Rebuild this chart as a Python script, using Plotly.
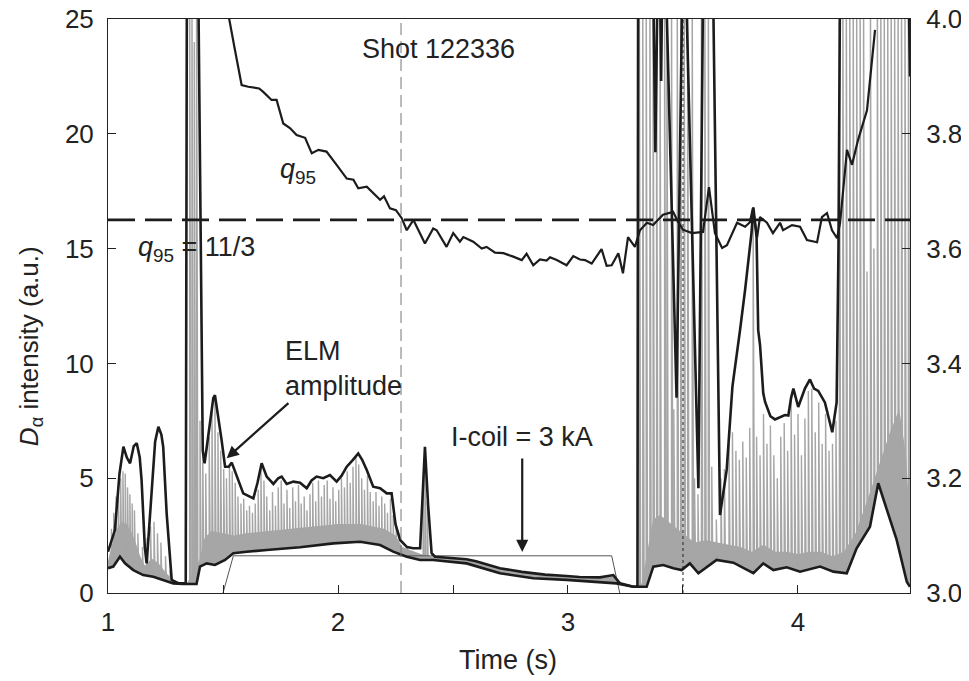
import plotly.graph_objects as go

# ---------------- data ----------------
# ELM amplitude envelope (left axis, a.u.)
env_t = [1.000, 1.030, 1.050, 1.067, 1.082, 1.096, 1.112, 1.125, 1.138, 1.146, 1.160, 1.168, 1.180, 1.190,
         1.205, 1.219, 1.232, 1.240, 1.255, 1.277, 1.306, 1.338, 1.343, 1.392, 1.412, 1.420, 1.440, 1.458,
         1.465, 1.478, 1.494, 1.509, 1.525, 1.538, 1.560, 1.588, 1.632, 1.650, 1.668, 1.690, 1.719, 1.740,
         1.755, 1.777, 1.806, 1.835, 1.864, 1.885, 1.907, 1.936, 1.965, 1.994, 2.015, 2.038, 2.065, 2.088,
         2.105, 2.125, 2.153, 2.183, 2.212, 2.233, 2.250, 2.270, 2.300, 2.327, 2.357, 2.365, 2.378, 2.392,
         2.407, 2.422, 2.500, 2.559, 2.600, 2.704, 2.800, 2.849, 2.900, 2.994, 3.050, 3.139, 3.197, 3.226,
         3.284, 3.302, 3.305, 3.370, 3.380, 3.390, 3.400, 3.405, 3.410, 3.425, 3.472, 3.498, 3.512, 3.567,
         3.588, 3.630, 3.661, 3.690, 3.715, 3.748, 3.770, 3.798, 3.806, 3.820, 3.827, 3.835, 3.849, 3.857,
         3.880, 3.900, 3.943, 3.958, 3.970, 3.980, 4.001, 4.030, 4.052, 4.070, 4.088, 4.117, 4.149, 4.168,
         4.176, 4.183, 4.480, 4.487]
env_v = [1.80, 2.74, 5.20, 6.37, 5.90, 5.65, 6.40, 6.52, 5.90, 4.92, 2.00, 1.29, 3.00, 4.63,
         6.60, 7.24, 6.90, 6.37, 3.47, 0.57, 0.42, 0.42, 27.0, 27.0, 6.20, 5.65, 7.20, 8.50,
         8.62, 7.80, 6.66, 5.50, 5.50, 5.68, 5.07, 4.34, 4.12, 4.80, 5.65, 5.07, 4.75, 5.00,
         5.07, 4.75, 4.85, 4.80, 4.56, 4.90, 5.07, 5.00, 5.14, 4.85, 5.10, 5.50, 5.80, 6.08,
         5.80, 5.36, 4.63, 4.56, 4.34, 4.34, 3.00, 2.31, 2.00, 1.95, 1.95, 3.50, 6.37, 3.80,
         1.73, 1.58, 1.50, 1.47, 1.38, 1.08, 0.92, 0.86, 0.80, 0.74, 0.70, 0.68, 0.78, 0.42,
         0.27, 0.27, 27.0, 27.0, 19.2, 27.0, 27.0, 22.3, 27.0, 27.0, 8.50, 27.0, 27.0, 4.56,
         27.0, 27.0, 3.40, 5.36, 9.00, 11.45, 13.2, 15.7, 16.8, 15.5, 11.45, 10.8, 8.70, 8.32,
         7.70, 7.56, 7.75, 7.73, 8.50, 8.90, 8.10, 8.90, 9.30, 8.90, 8.80, 8.30, 7.00, 8.30,
         15.0, 27.0, 27.0, 22.5]

# Lower D-alpha baseline (left axis)
base_t = [1.000, 1.023, 1.052, 1.074, 1.110, 1.153, 1.197, 1.240, 1.284, 1.327, 1.385, 1.400, 1.429,
          1.465, 1.509, 1.545, 1.603, 1.690, 1.835, 1.980, 2.096, 2.183, 2.240, 2.299, 2.357, 2.414,
          2.559, 2.704, 2.849, 2.994, 3.139, 3.211, 3.284, 3.342, 3.371, 3.414, 3.458, 3.494, 3.530,
          3.567, 3.646, 3.719, 3.806, 3.849, 3.893, 3.951, 4.009, 4.096, 4.154, 4.212, 4.255, 4.313,
          4.349, 4.386, 4.429, 4.473, 4.487]
base_v = [1.08, 1.15, 1.58, 1.29, 1.00, 0.78, 0.71, 0.57, 0.42, 0.39, 0.39, 1.15, 1.29,
          1.22, 1.44, 1.73, 1.80, 1.87, 1.99, 2.16, 2.23, 2.09, 1.80, 1.58, 1.44, 1.44,
          1.29, 0.86, 0.64, 0.57, 0.45, 0.42, 0.27, 0.27, 1.15, 1.22, 1.08, 1.00, 1.29,
          0.86, 1.44, 1.32, 0.86, 1.29, 1.00, 1.12, 0.93, 1.15, 0.93, 0.86, 1.95, 2.89,
          4.78, 3.61, 2.31, 0.49, 0.27]

# Upper edge of the dense inter-ELM D-alpha signal (grey band above the baseline)
band_t = [1.000, 1.020, 1.040, 1.060, 1.080, 1.100, 1.120, 1.140, 1.160, 1.190, 1.220, 1.250, 1.280,
          1.320, 1.345, 1.400, 1.420, 1.450, 1.500, 1.550, 1.600, 1.700, 1.800, 1.900, 2.000, 2.100,
          2.200, 2.250, 2.280, 2.320, 2.360, 2.400, 2.422, 2.500, 2.559, 2.600, 2.704, 2.800, 2.900,
          2.994, 3.050, 3.139, 3.197, 3.226, 3.284, 3.320, 3.340, 3.370, 3.400, 3.450, 3.500, 3.550,
          3.600, 3.650, 3.700, 3.750, 3.800, 3.850, 3.900, 3.950, 4.000, 4.050, 4.100, 4.150, 4.200,
          4.250, 4.300, 4.350, 4.400, 4.440, 4.470, 4.487]
band_hi = [1.4, 2.2, 2.8, 3.1, 3.0, 2.7, 2.2, 1.6, 1.2, 1.5, 1.3, 0.9, 0.6,
           0.45, 0.45, 1.5, 2.4, 2.7, 2.6, 2.5, 2.6, 2.7, 2.8, 2.9, 3.0, 3.0,
           2.8, 2.5, 2.0, 1.85, 1.7, 1.6, 1.58, 1.50, 1.47, 1.38, 1.08, 0.92, 0.80,
           0.74, 0.70, 0.68, 0.78, 0.45, 0.30, 0.40, 1.5, 3.2, 3.4, 3.0, 2.6, 2.2,
           2.3, 2.2, 2.1, 2.0, 1.8, 2.1, 1.8, 1.8, 1.7, 1.8, 1.8, 1.6, 1.8,
           2.6, 4.0, 5.5, 7.0, 8.0, 6.0, 3.0]

# Individual ELM spikes (time, peak) of the raw D-alpha signal
spike_t = [1.015, 1.025, 1.035, 1.045, 1.055, 1.065, 1.075, 1.085, 1.095, 1.105, 1.115, 1.130, 1.150,
           1.170, 1.185, 1.200, 1.215, 1.230, 1.250, 1.270, 1.355, 1.365, 1.375, 1.385,
           1.400, 1.412, 1.425, 1.440, 1.452, 1.465, 1.478, 1.490, 1.503, 1.515, 1.528, 1.540, 1.553,
           1.565, 1.578, 1.590, 1.603, 1.615, 1.628, 1.640, 1.653, 1.665, 1.678, 1.690, 1.703, 1.715,
           1.728, 1.740, 1.753, 1.765, 1.778, 1.790, 1.803, 1.815, 1.828, 1.840, 1.853, 1.865, 1.878,
           1.890, 1.903, 1.915, 1.928, 1.940, 1.953, 1.965, 1.978, 1.990, 2.003, 2.015, 2.028, 2.040,
           2.053, 2.065, 2.078, 2.090, 2.103, 2.115, 2.128, 2.140, 2.153, 2.165, 2.178, 2.190, 2.203,
           2.215, 2.228, 2.240, 2.253, 2.300, 2.370, 2.378, 2.388,
           3.310, 3.325, 3.340, 3.356, 3.370, 3.385, 3.400, 3.420, 3.430, 3.450, 3.460, 3.475, 3.490,
           3.505, 3.520, 3.540, 3.550, 3.565, 3.580, 3.595, 3.610, 3.625, 3.645, 3.665, 3.680, 3.700,
           3.715, 3.730, 3.745, 3.760, 3.775, 3.790, 3.805, 3.820, 3.835, 3.850, 3.865, 3.880, 3.895,
           3.910, 3.925, 3.940, 3.955, 3.970, 3.985, 4.000, 4.015, 4.030, 4.045, 4.060, 4.075, 4.090,
           4.105, 4.120, 4.135, 4.150, 4.165, 4.180, 4.195, 4.210, 4.225, 4.240, 4.255, 4.270, 4.285,
           4.300, 4.315, 4.330, 4.345, 4.360, 4.375, 4.390, 4.405, 4.420, 4.435, 4.450, 4.465, 4.480]
spike_peak = [2.8, 3.5, 4.2, 4.6, 5.0, 5.3, 5.2, 4.6, 4.3, 3.9, 3.6, 2.6, 2.0,
              2.4, 2.9, 3.1, 2.6, 2.2, 1.6, 1.0, 27.0, 27.0, 24.0, 27.0,
              7.5, 6.0, 5.2, 6.8, 8.0, 8.4, 7.0, 6.2, 5.4, 5.0, 5.6, 5.3, 4.8,
              4.2, 3.9, 4.1, 3.6, 3.8, 3.5, 3.9, 4.5, 5.4, 4.9, 4.2, 3.6, 4.4,
              3.8, 4.6, 4.9, 3.9, 4.5, 3.7, 4.6, 4.0, 4.7, 3.9, 4.2, 3.6, 4.3,
              4.8, 4.0, 4.9, 4.2, 4.7, 4.9, 4.1, 4.6, 4.0, 4.5, 5.0, 4.6, 5.3,
              4.8, 5.5, 5.9, 5.6, 5.0, 4.5, 5.1, 4.4, 4.0, 4.4, 3.8, 4.2, 3.9,
              3.5, 4.1, 3.4, 2.9, 2.0, 4.5, 5.8, 4.0,
              27.0, 27.0, 27.0, 27.0, 27.0, 27.0, 27.0, 27.0, 27.0, 27.0, 8.0, 27.0, 27.0,
              27.0, 27.0, 27.0, 5.0, 4.3, 27.0, 27.0, 27.0, 5.5, 3.2, 5.0, 5.4, 6.5,
              7.0, 6.2, 5.8, 6.6, 5.9, 7.2, 16.5, 6.8, 6.0, 7.8, 6.5, 7.3, 6.0,
              5.0, 6.8, 7.4, 6.2, 8.5, 6.9, 7.8, 6.0, 7.6, 8.8, 8.9, 7.0, 8.3,
              6.5, 7.8, 6.2, 6.5, 7.5, 27.0, 27.0, 27.0, 27.0, 27.0, 27.0, 27.0, 27.0,
              14.0, 27.0, 15.0, 27.0, 27.0, 27.0, 27.0, 27.0, 27.0, 27.0, 27.0, 27.0, 27.0]

# Edge safety factor q95 (right axis)
q95_t = [1.520, 1.527, 1.552, 1.581, 1.610, 1.657, 1.675, 1.711, 1.733, 1.762, 1.791, 1.820, 1.857,
         1.886, 1.915, 1.950, 1.994, 2.038, 2.067, 2.088, 2.125, 2.153, 2.183, 2.200, 2.226, 2.252,
         2.277, 2.299, 2.328, 2.378, 2.414, 2.429, 2.472, 2.501, 2.530, 2.545, 2.588, 2.625, 2.646,
         2.683, 2.719, 2.762, 2.799, 2.820, 2.849, 2.878, 2.907, 2.922, 2.951, 2.994, 3.023, 3.052,
         3.074, 3.103, 3.146, 3.168, 3.190, 3.219, 3.239, 3.261, 3.291, 3.313, 3.343, 3.370, 3.413,
         3.457, 3.478, 3.500, 3.539, 3.587, 3.613, 3.639, 3.670, 3.691, 3.735, 3.770, 3.791, 3.804,
         3.822, 3.835, 3.865, 3.891, 3.922, 3.935, 3.974, 4.009, 4.039, 4.083, 4.104, 4.126, 4.148,
         4.170, 4.183, 4.213, 4.235, 4.261, 4.300, 4.335]
q95_v = [4.020, 4.000, 3.946, 3.885, 3.882, 3.879, 3.873, 3.859, 3.859, 3.818, 3.810, 3.798, 3.793,
         3.766, 3.772, 3.769, 3.746, 3.722, 3.720, 3.705, 3.708, 3.696, 3.685, 3.691, 3.670, 3.667,
         3.653, 3.632, 3.650, 3.609, 3.635, 3.632, 3.603, 3.627, 3.612, 3.620, 3.612, 3.600, 3.603,
         3.593, 3.592, 3.586, 3.580, 3.591, 3.571, 3.581, 3.579, 3.585, 3.580, 3.571, 3.587, 3.581,
         3.580, 3.574, 3.599, 3.570, 3.571, 3.592, 3.557, 3.620, 3.603, 3.632, 3.645, 3.641, 3.659,
         3.664, 3.647, 3.633, 3.627, 3.629, 3.707, 3.627, 3.601, 3.606, 3.645, 3.638, 3.646, 3.671,
         3.619, 3.655, 3.645, 3.627, 3.645, 3.632, 3.641, 3.638, 3.615, 3.611, 3.655, 3.662, 3.632,
         3.618, 3.645, 3.772, 3.746, 3.789, 3.841, 3.981]

# I-coil current waveform (scaled onto left axis)
icoil_t = [1.500, 1.545, 3.190, 3.225]
icoil_v = [0.0, 1.62, 1.62, 0.0]

q95_threshold = 3.65          # q95 = 11/3 line as drawn
shot_marker_t = 2.274         # vertical dashed marker
dotted_marker_t = 3.50        # vertical dotted marker

x_ticks = [1, 2, 3, 4]
y_ticks = [0, 5, 10, 15, 20, 25]
y2_ticks = [3.0, 3.2, 3.4, 3.6, 3.8, 4.0]

# ---------------- figure ----------------
FONT = "Liberation Sans, Arial, Helvetica, sans-serif"
GREY = "#a6a6a6"
BLACK = "#1c1c1c"

fig = go.Figure()

# dense inter-ELM signal: polygon between baseline and band upper edge
fig.add_trace(go.Scatter(
    x=band_t + base_t[::-1], y=band_hi + base_v[::-1],
    fill="toself", fillcolor=GREY, line=dict(width=0), mode="lines",
    hoverinfo="skip", showlegend=False))

# ELM spikes
sx, sy = [], []
for t, p in zip(spike_t, spike_peak):
    sx += [t, t, t + 0.006, None]
    sy += [0, p, 0, None]
fig.add_trace(go.Scatter(x=sx, y=sy, mode="lines", line=dict(color=GREY, width=1.4),
                         hoverinfo="skip", showlegend=False))

# blank out below the baseline
fig.add_trace(go.Scatter(x=base_t, y=base_v, fill="tozeroy", fillcolor="white",
                         line=dict(width=0), mode="lines", hoverinfo="skip", showlegend=False))

# I-coil trapezoid
fig.add_trace(go.Scatter(x=icoil_t, y=icoil_v, mode="lines",
                         line=dict(color="#555555", width=1), showlegend=False))

# envelope and baseline
fig.add_trace(go.Scatter(x=env_t, y=env_v, mode="lines",
                         line=dict(color=BLACK, width=2.6), showlegend=False))
fig.add_trace(go.Scatter(x=base_t, y=base_v, mode="lines",
                         line=dict(color=BLACK, width=2.6), showlegend=False))

# q95 on right axis
fig.add_trace(go.Scatter(x=q95_t, y=q95_v, mode="lines", yaxis="y2",
                         line=dict(color=BLACK, width=2.2), showlegend=False))
fig.add_trace(go.Scatter(x=[1.0, 4.487], y=[q95_threshold, q95_threshold], mode="lines", yaxis="y2",
                         line=dict(color=BLACK, width=2.6, dash="27px,10px"), showlegend=False))

# vertical markers
fig.add_shape(type="line", x0=shot_marker_t, x1=shot_marker_t, y0=0, y1=1, xref="x", yref="paper",
              line=dict(color="#777777", width=1, dash="12px,6px"))
fig.add_shape(type="line", x0=dotted_marker_t, x1=dotted_marker_t, y0=0, y1=1, xref="x", yref="paper",
              line=dict(color="#222222", width=1, dash="dot"))

TXT = dict(family=FONT, size=27, color="#222222")
ann = [
    dict(x=2.435, y=23.7, text="Shot 122336", showarrow=False, font=TXT),
    dict(x=1.824, y=18.4, text="<i>q</i><sub>95</sub>", showarrow=False, font=TXT),
    dict(x=1.383, y=15.0, text="<i>q</i><sub>95</sub> = 11/3", showarrow=False, font=TXT),
    dict(x=1.761, y=11.3, text="ELM<br>amplitude", showarrow=False, font=TXT, align="left",
         xanchor="left", yanchor="top"),
    dict(x=1.516, y=5.87, ax=1.791, ay=8.33, axref="x", ayref="y", text="", showarrow=True,
         arrowhead=2, arrowsize=1.1, arrowwidth=2.2, arrowcolor=BLACK),
    dict(x=2.80, y=6.8, text="I-coil = 3 kA", showarrow=False, font=TXT),
    dict(x=2.801, y=1.79, ax=2.801, ay=5.92, axref="x", ayref="y", text="", showarrow=True,
         arrowhead=2, arrowsize=1.1, arrowwidth=2.2, arrowcolor=BLACK),
    dict(x=-0.0973, y=0.43, xref="paper", yref="paper", xanchor="center", yanchor="middle",
         text="<i>D</i><sub>α</sub> intensity (a.u.)", textangle=-90, showarrow=False,
         font=dict(family=FONT, size=26, color="#222222")),
    dict(x=0.4988, y=-0.1167, xref="paper", yref="paper", xanchor="center", yanchor="middle",
         text="Time (s)", showarrow=False, font=TXT),
]
fig.update_layout(annotations=ann)

AX = dict(showgrid=False, zeroline=False, showline=True, linecolor="#222222", linewidth=1,
          ticks="inside", ticklen=8, tickcolor="#222222", automargin=False,
          ticklabeloverflow="allow",
          tickfont=dict(family=FONT, size=26, color="#222222"))

# the page body adds an 8 px offset, so the figure is 8 px smaller than the window
fig.update_layout(
    width=961, height=673,
    margin=dict(l=100, r=59, t=11, b=88, autoexpand=False),
    paper_bgcolor="white", plot_bgcolor="white",
    showlegend=False,
    xaxis=dict(range=[1.0, 4.487], tickvals=x_ticks, mirror=True,
               minor=dict(ticks="inside", dtick=0.5, ticklen=8, tickcolor="#222222"),
               ticklabelstandoff=6, **AX),
    yaxis=dict(range=[0, 25], tickvals=y_ticks, mirror=True, ticklabelstandoff=8, **AX),
    yaxis2=dict(range=[3.0, 4.0], tickvals=y2_ticks, ticktext=[f"{v:.1f}" for v in y2_ticks],
                overlaying="y", side="right", ticklabelstandoff=10, **AX),
)

fig.write_html("out.html")
